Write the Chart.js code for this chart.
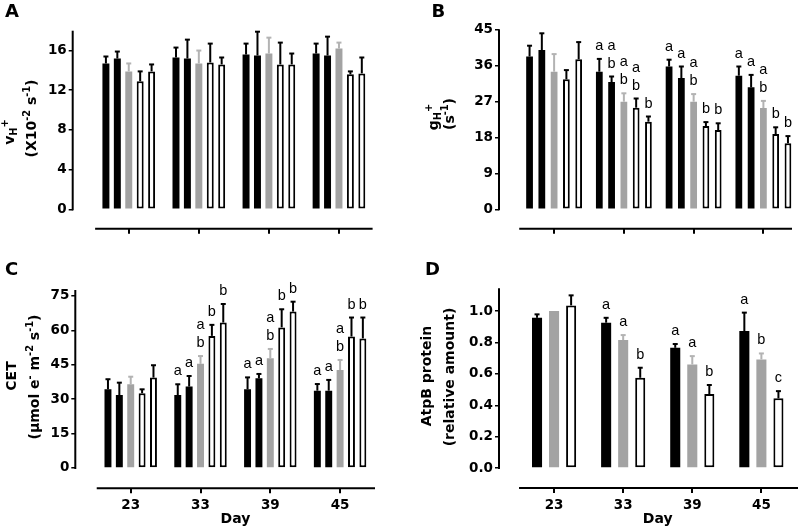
<!DOCTYPE html>
<html><head><meta charset="utf-8">
<script src="https://cdn.jsdelivr.net/npm/chart.js@4.4.0/dist/chart.umd.min.js"></script>
<style>
html,body{margin:0;padding:0;background:#fff;width:800px;height:529px;overflow:hidden}
canvas{position:absolute}
</style></head><body>
<canvas id="cA" width="400" height="250" style="left:0;top:0;width:400px;height:250px"></canvas>
<canvas id="cB" width="400" height="250" style="left:400px;top:0;width:400px;height:250px"></canvas>
<canvas id="cC" width="400" height="279" style="left:0;top:250px;width:400px;height:279px"></canvas>
<canvas id="cD" width="400" height="279" style="left:400px;top:250px;width:400px;height:279px"></canvas>
<script>
// ---- categories ----
const days = ['23', '33', '39', '45'];

// ---- Panel A: vH+ (x10^-2 s^-1) ----
const vhMean = [
  [14.7, 15.3, 15.6, 15.7],
  [15.2, 15.2, 15.5, 15.5],
  [13.9, 14.7, 15.7, 16.2],
  [12.9, 14.8, 14.6, 13.6],
  [13.9, 14.6, 14.6, 13.7]
];
const vhErr = [
  [0.7, 1.0, 1.1, 1.0],
  [0.7, 1.9, 2.4, 1.9],
  [0.8, 1.3, 1.6, 0.6],
  [1.0, 1.9, 2.2, 0.3],
  [0.7, 0.7, 1.1, 1.6]
];
const vhTicks = [0, 4, 8, 12, 16];

// ---- Panel B: gH+ (s^-1) ----
const ghMean = [
  [38.2, 34.4, 35.7, 33.4],
  [39.8, 31.8, 32.8, 30.5],
  [34.4, 26.9, 26.9, 25.3],
  [32.5, 25.4, 20.8, 18.8],
  [37.5, 21.9, 19.8, 16.5]
];
const ghErr = [
  [2.7, 3.2, 1.7, 2.3],
  [4.2, 1.4, 2.9, 3.1],
  [4.4, 2.1, 1.9, 1.8],
  [2.3, 2.3, 1.0, 1.7],
  [4.3, 1.3, 1.7, 1.8]
];
const ghLetters = [
  ['', 'a', 'a', 'a'],
  ['', 'ab', 'a', 'a'],
  ['', 'ab', 'ab', 'ab'],
  ['', 'ab', 'b', 'b'],
  ['', 'b', 'b', 'b']
];
const ghTicks = [0, 9, 18, 27, 36, 45];

// ---- Panel C: CET ----
const cetMean = [
  [34.3, 31.8, 34.3, 33.7],
  [31.8, 35.5, 39.1, 33.7],
  [36.5, 45.4, 47.8, 42.7],
  [32.6, 57.6, 61.3, 57.3],
  [39.4, 63.4, 68.2, 56.5]
];
const cetErr = [
  [4.4, 4.7, 5.2, 2.9],
  [5.4, 4.6, 1.9, 4.7],
  [3.3, 3.4, 4.1, 4.4],
  [1.7, 4.8, 7.9, 8.3],
  [5.4, 8.1, 4.3, 9.1]
];
const cetLetters = [
  ['', 'a', 'a', 'a'],
  ['', 'a', 'a', 'a'],
  ['', 'ab', 'ab', 'ab'],
  ['', 'b', 'b', 'b'],
  ['', 'b', 'b', 'b']
];
const cetTicks = [0, 15, 30, 45, 60, 75];

// ---- Panel D: AtpB protein ----
const atpMean = [
  [0.957, 0.926, 0.766, 0.873],
  [1.0, 0.815, 0.66, 0.692],
  [1.036, 0.575, 0.471, 0.444]
];
const atpErr = [
  [0.022, 0.031, 0.024, 0.117],
  [0, 0.032, 0.053, 0.038],
  [0.064, 0.064, 0.058, 0.046]
];
const atpLetters = [
  ['', 'a', 'a', 'a'],
  ['', 'a', 'a', 'b'],
  ['', 'b', 'b', 'c']
];
const atpTicks = [0, 0.2, 0.4, 0.6, 0.8, 1.0];

const kinds5 = ['black', 'black', 'gray', 'white', 'white'];
const kinds3 = ['black', 'gray', 'white'];

const GRAY = '#a3a3a3';
const GRAY_ERR = '#b3b3b3';
const TICK_FONT = {family: 'DejaVu Sans', weight: 'bold', size: 13.5};
const TITLE_PX = 14;

function richLine(ctx, segs, x, y) {
  // rotated -90deg, centered at (x along baseline) y
  ctx.save();
  ctx.translate(x, y);
  ctx.rotate(-Math.PI / 2);
  ctx.fillStyle = '#000';
  ctx.textBaseline = 'alphabetic';
  ctx.textAlign = 'left';
  const parts = segs.map(s => {
    const sz = (s.sub || s.sup) ? TITLE_PX * 0.7 : TITLE_PX;
    const font = (s.it ? 'italic ' : '') + 'bold ' + sz + 'px "DejaVu Sans"';
    ctx.font = font;
    return {t: s.t, font, w: ctx.measureText(s.t).width, dy: s.sub ? TITLE_PX * 0.28 : (s.sup ? -TITLE_PX * 0.42 : 0)};
  });
  const total = parts.reduce((a, p) => a + p.w, 0);
  let cx = -total / 2;
  parts.forEach(p => { ctx.font = p.font; ctx.fillText(p.t, cx, p.dy); cx += p.w; });
  ctx.restore();
}

function makeDeco(cfg) {
  return {
    id: 'deco',
    afterDatasetsDraw(chart) {
      const ctx = chart.ctx, ys = chart.scales.y;
      ctx.save();
      cfg.means.forEach((m, i) => {
        const meta = chart.getDatasetMeta(i);
        const col = cfg.kinds[i] === 'gray' ? GRAY_ERR : '#000';
        meta.data.forEach((bar, j) => {
          const e = cfg.errs[i][j];
          let top = bar.y;
          if (e) {
            top = ys.getPixelForValue(m[j] + e);
            ctx.strokeStyle = col; ctx.lineWidth = 2; ctx.lineCap = 'butt';
            ctx.beginPath(); ctx.moveTo(bar.x, bar.y); ctx.lineTo(bar.x, top); ctx.stroke();
            ctx.beginPath(); ctx.moveTo(bar.x - 2.5, top); ctx.lineTo(bar.x + 2.5, top); ctx.stroke();
          }
          const L = cfg.letters ? cfg.letters[i][j] : '';
          if (L) {
            const ch = L.split('');
            ctx.fillStyle = '#000';
            ctx.font = '14.5px "Liberation Sans"';
            ctx.textAlign = 'center'; ctx.textBaseline = 'alphabetic';
            ch.forEach((c, k) => {
              ctx.fillText(c, bar.x, top - 9 - (ch.length - 1 - k) * 18);
            });
          }
        });
      });
      ctx.restore();
    },
    afterDraw(chart) {
      const ctx = chart.ctx, ys = chart.scales.y, xs = chart.scales.x;
      ctx.save();
      ctx.strokeStyle = '#000'; ctx.lineWidth = 2;
      ctx.beginPath();
      ctx.moveTo(ys.right, ys.getPixelForValue(0) + 1);
      ctx.lineTo(ys.right, chart.chartArea.top);
      ctx.stroke();
      ctx.beginPath();
      ctx.moveTo(xs.getPixelForValue(cfg.lineFrom), xs.top);
      ctx.lineTo(xs.getPixelForValue(cfg.lineTo), xs.top);
      ctx.stroke();
      cfg.titles.forEach(t => richLine(ctx, t.segs, t.x, t.y));
      ctx.fillStyle = '#000';
      ctx.font = 'bold 18px "DejaVu Sans"';
      ctx.textAlign = 'left'; ctx.textBaseline = 'alphabetic';
      ctx.fillText(cfg.panel, cfg.panelX, cfg.panelY);
      if (cfg.xLabels) {
        ctx.font = 'bold 14px "DejaVu Sans"';
        ctx.textAlign = 'center'; ctx.textBaseline = 'middle';
        ctx.fillText('Day', xs.getPixelForValue(1.5), cfg.dayY);
      }
      ctx.restore();
    }
  };
}

function makePanel(id, cfg) {
  const datasets = cfg.means.map((m, i) => {
    const k = cfg.kinds[i];
    return {
      data: m.map((v, j) => ({x: j, y: v})),
      backgroundColor: k === 'black' ? '#000' : (k === 'gray' ? GRAY : '#fff'),
      borderColor: k === 'gray' ? GRAY : '#000',
      borderWidth: k === 'white' ? 2 : 0,
      borderSkipped: false,
      categoryPercentage: cfg.catPct,
      barPercentage: cfg.barPct
    };
  });
  new Chart(document.getElementById(id), {
    type: 'bar',
    data: {datasets},
    options: {
      responsive: false, animation: false, devicePixelRatio: 1,
      layout: {padding: {top: cfg.padTop, right: cfg.padRight, left: 0, bottom: 0}},
      plugins: {legend: {display: false}, tooltip: {enabled: false}, title: {display: false}},
      scales: {
        x: {
          type: 'linear', min: cfg.xMin, max: cfg.xMax, offset: false,
          afterBuildTicks: s => { s.ticks = days.map((d, i) => ({value: i})); },
          afterFit: s => { s.height = cfg.xHeight; },
          grid: {display: true, drawOnChartArea: false, drawTicks: true, tickLength: 5, color: '#000', lineWidth: 2, offset: false},
          border: {display: false},
          ticks: {display: cfg.xLabels, autoSkip: false, maxRotation: 0, callback: v => days[v], font: TICK_FONT, color: '#000', padding: 4}
        },
        y: {
          type: 'linear', min: cfg.yMin, max: cfg.yMax,
          afterBuildTicks: s => { s.ticks = cfg.yTicks.map(v => ({value: v})); },
          afterFit: s => { s.width = cfg.yWidth; },
          grid: {display: true, drawOnChartArea: false, drawTicks: true, tickLength: 4, color: '#000', lineWidth: 1.5},
          border: {display: false},
          ticks: {callback: v => cfg.yFmt(v), font: TICK_FONT, color: '#000', padding: 2}
        }
      }
    },
    plugins: [makeDeco(cfg)]
  });
}

makePanel('cA', {
  means: vhMean, errs: vhErr, letters: null, kinds: kinds5,
  yMin: -1.95, yMax: 18, yTicks: vhTicks, yFmt: v => String(v), yWidth: 72.7,
  padTop: 30.7, padRight: 26, xMin: -0.8, xMax: 3.5, xHeight: 21.3, xLabels: false,
  catPct: 0.815, barPct: 0.61, lineFrom: -0.48, lineTo: 3.48,
  panel: 'A', panelX: 5, panelY: 17,
  titles: [
    {segs: [{t: 'v'}, {t: 'H', sub: true}, {t: '+', sup: true}], x: 13.5, y: 132},
    {segs: [{t: '(X10'}, {t: '-2', sup: true}, {t: ' s'}, {t: '-1', sup: true}, {t: ')'}], x: 35.5, y: 118.5}
  ]
});

makePanel('cB', {
  means: ghMean, errs: ghErr, letters: ghLetters, kinds: kinds5,
  yMin: -4.85, yMax: 45, yTicks: ghTicks, yFmt: v => String(v), yWidth: 99,
  padTop: 29.3, padRight: 7.3, xMin: -0.79, xMax: 3.42, xHeight: 21.3, xLabels: false,
  catPct: 0.88, barPct: 0.55, lineFrom: -0.5, lineTo: 3.41,
  panel: 'B', panelX: 31.5, panelY: 16.5,
  titles: [
    {segs: [{t: 'g'}, {t: 'H', sub: true}, {t: '+', sup: true}], x: 37.5, y: 117},
    {segs: [{t: '(s'}, {t: '-1', sup: true}, {t: ')'}], x: 54, y: 114}
  ]
});

makePanel('cC', {
  means: cetMean, errs: cetErr, letters: cetLetters, kinds: kinds5,
  yMin: -8.85, yMax: 77.6, yTicks: cetTicks, yFmt: v => String(v), yWidth: 75.3,
  padTop: 40, padRight: 24.3, xMin: -0.794, xMax: 3.51, xHeight: 40.7, xLabels: true,
  catPct: 0.815, barPct: 0.61, lineFrom: -0.487, lineTo: 3.5,
  panel: 'C', panelX: 5, panelY: 25, dayY: 269.3,
  titles: [
    {segs: [{t: 'CET'}], x: 16, y: 126},
    {segs: [{t: '(\u00b5mol e'}, {t: '-', sup: true}, {t: ' m'}, {t: '-2', sup: true}, {t: ' s'}, {t: '-1', sup: true}, {t: ')'}], x: 39, y: 127}
  ]
});

makePanel('cD', {
  means: atpMean, errs: atpErr, letters: atpLetters, kinds: kinds3,
  yMin: -0.127, yMax: 1.145, yTicks: atpTicks, yFmt: v => v.toFixed(1), yWidth: 99,
  padTop: 38.3, padRight: 1.3, xMin: -0.797, xMax: 3.54, xHeight: 41, xLabels: true,
  catPct: 0.74, barPct: 0.59, lineFrom: -0.507, lineTo: 3.53,
  panel: 'D', panelX: 25, panelY: 25, dayY: 269.3,
  titles: [
    {segs: [{t: 'AtpB protein'}], x: 31, y: 126},
    {segs: [{t: '(relative amount)'}], x: 54, y: 127}
  ]
});
</script>
</body></html>
